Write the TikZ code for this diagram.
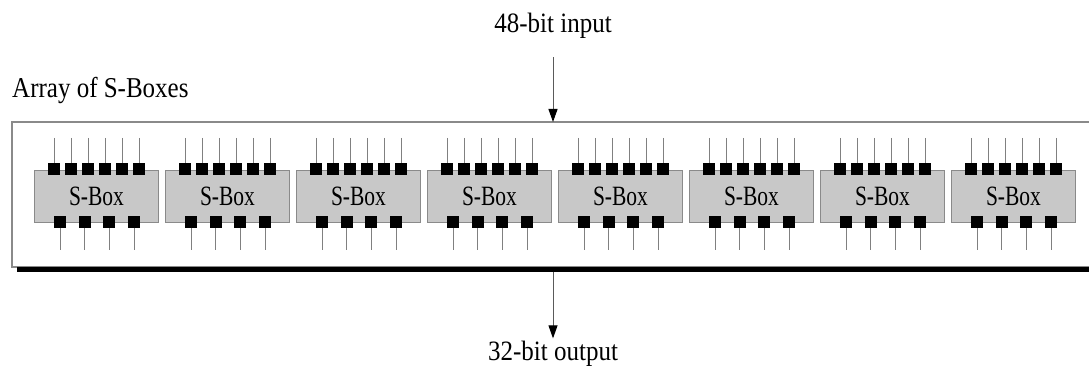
\documentclass[tikz,border=0pt]{standalone}
\usepackage{fontspec}
\setmainfont{Liberation Serif}
\usetikzlibrary{arrows.meta}
\definecolor{boxfill}{HTML}{C8C8C8}
\definecolor{boxline}{HTML}{8A8A8A}
\definecolor{wire}{HTML}{808080}
\begin{document}
\begin{tikzpicture}[x=1pt,y=-1pt,
  sbox/.style={draw=boxline, fill=boxfill, line width=1pt, minimum width=124pt, minimum height=52pt, inner sep=0pt, anchor=north west},
  pin/.style={fill=black, minimum size=12pt, inner sep=0pt},
  wireline/.style={draw=wire, line width=0.9pt},
  arr/.style={draw=wire!70!black, line width=1pt, -{Triangle[width=9pt,length=13pt,color=black]}},
  lbl/.style={font=\fontsize{25}{28}\selectfont, inner sep=0pt}]
\useasboundingbox (0,0) rectangle (1089,377);
% array frame
\node[draw=boxline, line width=1.4pt, minimum width=1100pt, minimum height=145pt, anchor=north west, inner sep=0pt, outer sep=0pt] (array) at (12,122) {};
\draw[line width=5pt] (17,269.5) -- (1100,269.5);
% labels
\node[lbl, anchor=base west] (title) at (12,98) {\scalebox{1}[1.15]{Array of S-Boxes}};
\node[lbl, anchor=base] (in) at (553,33) {\scalebox{1}[1.12]{48-bit input}};
\node[lbl, anchor=base] (out) at (553,360) {\scalebox{1}[1.12]{32-bit output}};
\coordinate (bus) at (553,272);
\draw[arr] ([yshift=-18pt]in.south) -- (in.south |- array.north);
\draw[arr, shorten >=2pt] (bus) -- (out.north);
% S-boxes
\foreach \i in {0,...,7}{
  \pgfmathsetmacro\L{34+131*\i}
  \node[sbox, font=\fontsize{21.5}{24}\selectfont] (sb\i) at (\L,170) {\scalebox{1}[1.3]{S-Box}};
  \foreach \k in {0,...,5}{
    \node[pin] (t\i\k) at (\L+20+17*\k,169) {};
    \coordinate (tw\i\k) at (\L+20+17*\k,138);
    \draw[wireline] (tw\i\k) -- (t\i\k.north);
  }
  \foreach \k in {0,...,3}{
    \node[pin] (b\i\k) at (\L+26+24.7*\k,222) {};
    \coordinate (bw\i\k) at (\L+26+24.7*\k,250);
    \draw[wireline] (b\i\k.south) -- (bw\i\k);
  }
}
\end{tikzpicture}
\end{document}
